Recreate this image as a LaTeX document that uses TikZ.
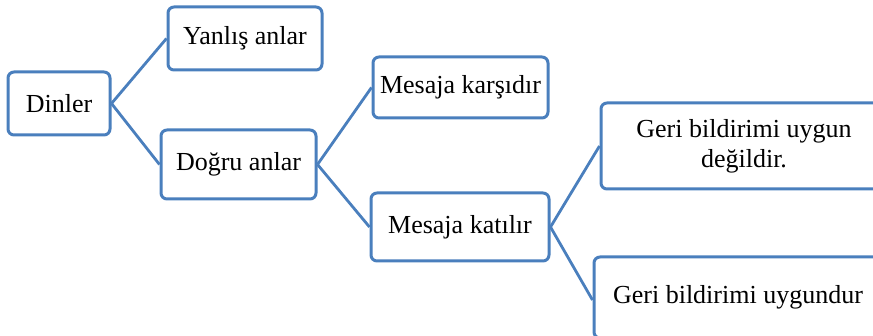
\documentclass[tikz,border=0pt]{standalone}
\usepackage{fontspec}
\setmainfont{Liberation Serif}
\definecolor{boxblue}{RGB}{74,127,189}
\begin{document}
\begin{tikzpicture}[x=1pt, y=-1pt,
  box/.style={draw=boxblue, line width=3pt, rounded corners=6pt, fill=white,
    inner sep=0pt, align=center, font=\fontsize{26}{30}\selectfont},
  link/.style={draw=boxblue, line width=2.8pt}]
  \useasboundingbox (0,0) rectangle (873,336);
  \clip (0,0) rectangle (873,336);
  % tree nodes
  \node[box, minimum width=102pt, minimum height=63pt] (dinler) at (59,103.5) {Dinler};
  \node[box, minimum width=154pt, minimum height=63pt] (yanlis) at (245,38.5) {Yanlış anlar};
  \node[box, minimum width=155pt, minimum height=69pt] (dogru) at (238.5,164.5) {Doğru anlar};
  \node[box, minimum width=175pt, minimum height=61pt] (karsi) at (460.5,87.5) {Mesaja karşıdır};
  \node[box, minimum width=178pt, minimum height=68pt] (katil) at (460,227) {Mesaja katılır};
  \node[box, minimum width=286pt, minimum height=86pt] (geri1) at (744,146) {Geri bildirimi uygun\\değildir.};
  \node[box, minimum width=288pt, minimum height=81pt] (geri2) at (738,297.5) {Geri bildirimi uygundur};
  % branches
  \draw[link] (dinler.east) -- (yanlis.west);
  \draw[link] (dinler.east) -- (dogru.west);
  \draw[link] (dogru.east) -- (karsi.west);
  \draw[link] (dogru.east) -- (katil.west);
  \draw[link] (katil.east) -- (geri1.west);
  \draw[link] (katil.east) -- (geri2.181.6);
\end{tikzpicture}
\end{document}
